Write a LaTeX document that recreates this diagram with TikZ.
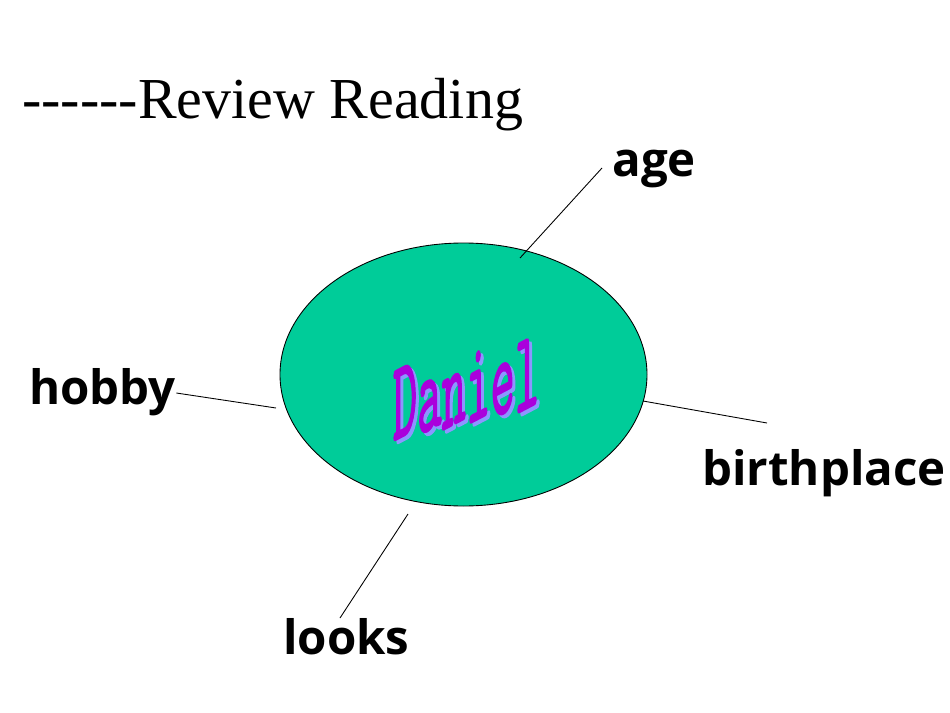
\documentclass[tikz,border=0pt]{standalone}
\usepackage{fontspec}
\setmainfont{Liberation Serif}
\newfontfamily\tagfont{Open Sans}
\newfontfamily\wordfont[FakeBold=2]{Latin Modern Mono}
\definecolor{blobgreen}{RGB}{0,204,153}
\definecolor{wordpurple}{RGB}{170,0,220}
\definecolor{wordshade}{RGB}{140,150,255}

\begin{document}
\begin{tikzpicture}[x=0.02cm, y=-0.02cm,
  blob/.style  ={draw=black, line width=0.5pt, fill=blobgreen},
  tag/.style   ={font=\tagfont\bfseries\fontsize{27}{27}\selectfont, inner sep=0pt, anchor=base west},
  spoke/.style ={draw=black, line width=0.5pt},
  letter/.style={font=\wordfont\fontsize{64}{64}\selectfont, inner sep=0pt, anchor=base, xscale=0.42, yslant=0.22}]

  \useasboundingbox (0,0) rectangle (950,713);

  % heading
  \node[font=\fontsize{33}{33}\selectfont, inner sep=0pt, anchor=base west] (title) at (22,118)
    {{-}{-}{-}{-}{-}{-}Review Reading};

  % the central oval
  \draw[blob] (463.5,374.5) ellipse [x radius=183.5, y radius=131.5];

  % the name, one letter at a time on a rising line (shadow first)
  \foreach \ch [count=\i] in {D,a,n,i,e,l}{
    \pgfmathsetmacro{\lx}{405+24.4*(\i-1)}
    \pgfmathsetmacro{\ly}{435-0.22*24.4*(\i-1)}
    \node[letter, text=wordshade]  (shade\i) at (\lx+3,\ly+3) {\ch};
    \node[letter, text=wordpurple] (name\i)  at (\lx,\ly) {\ch};
  }

  % labels round the oval
  \node[tag] (age)   at (612,176) {age};
  \node[tag] (hobby) at (29,404) {hobby};
  \node[tag] (birth) at (702,485) {birthplace};
  \node[tag] (looks) at (283,654) {looks};

  % free ends of the spokes on the oval
  \coordinate (ageend)   at (520,258);
  \coordinate (hobbyend) at (276,408);
  \coordinate (birthend) at (643,401);
  \coordinate (looksend) at (408,514);

  \draw[spoke] (ageend)   -- (602,168);
  \draw[spoke] (hobby.east |- 0,393) -- (hobbyend);
  \draw[spoke] (birthend) -- (767,423);
  \draw[spoke] (looksend) -- (340,618);
\end{tikzpicture}
\end{document}
